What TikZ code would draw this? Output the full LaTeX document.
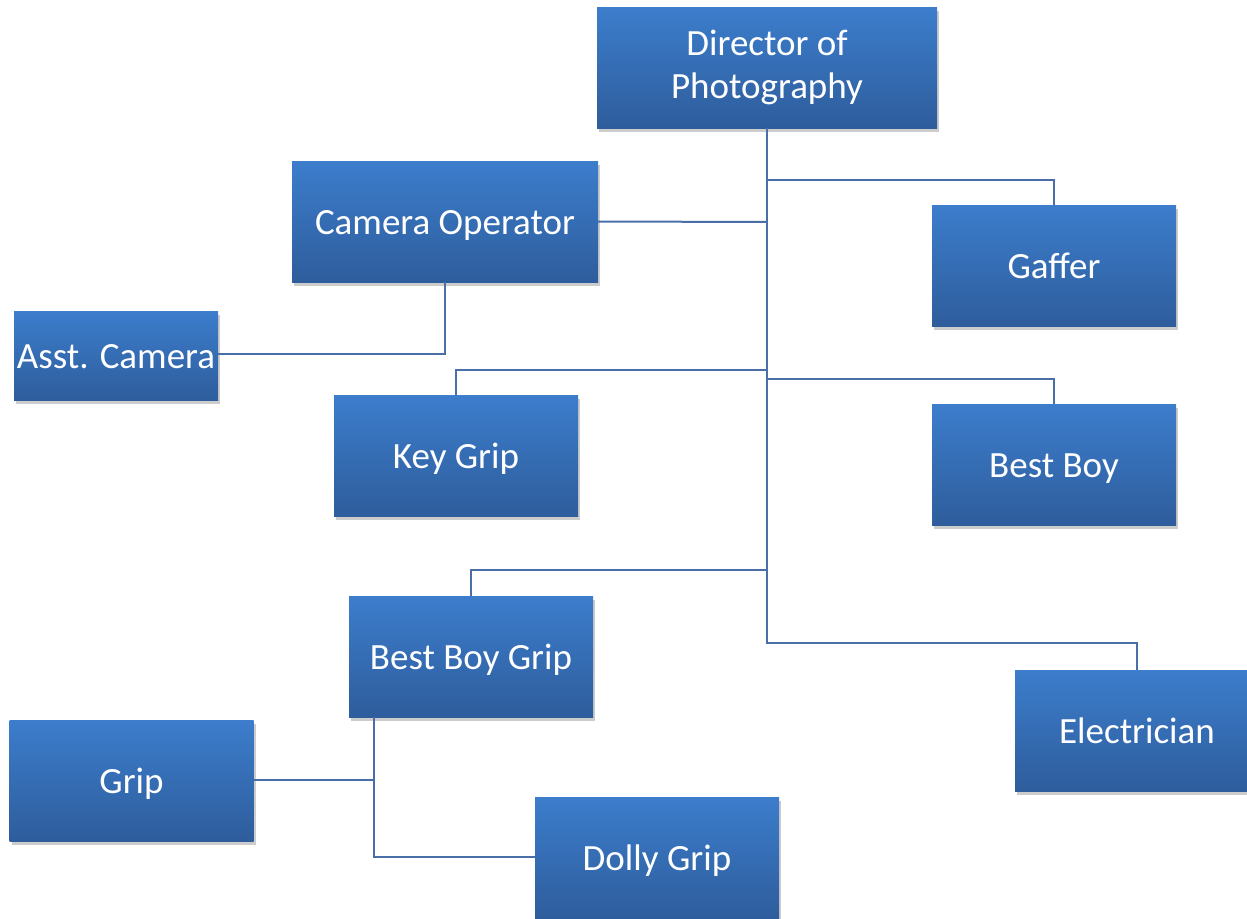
\documentclass[tikz,border=0pt]{standalone}
\usepackage{fontspec}
\setmainfont{Carlito}
\usetikzlibrary{shadows}
\definecolor{boxtop}{HTML}{3C7DCC}
\definecolor{boxbot}{HTML}{2E5D9C}
\definecolor{linkc}{HTML}{4A6EA8}
\tikzset{
  rolebox/.style={rectangle, minimum width=244pt, minimum height=121pt, inner sep=0pt,
    top color=boxtop, bottom color=boxbot, text=white, align=center,
    font=\fontsize{37}{44}\selectfont, text height=25pt, text depth=0pt,
    drop shadow={shadow xshift=2pt, shadow yshift=-4pt, opacity=0.2, fill=black}},
  link/.style={draw=linkc, line width=2pt}
}
\begin{document}
\begin{tikzpicture}[x=1pt,y=-1pt]
\useasboundingbox (0,0) rectangle (1247,918);
\node[rolebox, minimum width=340pt, text height=, text depth=] (dop) at (767,67.5) {\raisebox{-2pt}{Director of}\\\raisebox{-1pt}{Photography}};
\node[rolebox, minimum width=306pt] (cam) at (445,221.5) {Camera Operator};
\node[rolebox] (gaf) at (1054,265.5) {Gaffer};
\node[rolebox, minimum width=204pt, minimum height=89pt] (ast) at (116,355.5) {Asst. Camera};
\node[rolebox] (key) at (456,455.5) {Key Grip};
\node[rolebox] (bb) at (1054,464.5) {Best Boy};
\node[rolebox] (bbg) at (471,656.5) {Best Boy Grip};
\node[rolebox] (ele) at (1137,730.5) {Electrician};
\node[rolebox] (grip) at (131.5,780.5) {Grip};
\node[rolebox] (dolly) at (657,857.5) {Dolly Grip};

\coordinate (t1) at (767,180);
\coordinate (t2) at (767,222);
\coordinate (t3) at (767,370);
\coordinate (t4) at (767,379);
\coordinate (t5) at (767,570);
\coordinate (t6) at (767,643);
\coordinate (g1) at (374,780);
\coordinate (g2) at (374,857);
\coordinate (a1) at (445,354);

\draw[link] (dop.south) -- (t6) -| (ele.north);
\draw[link] (t1) -| (gaf.north);
\draw[link] (cam.east) -- (t2);
\draw[link] (cam.south) -- (a1) -- (ast.east |- a1);
\draw[link] (t3) -| (key.north);
\draw[link] (t4) -| (bb.north);
\draw[link] (t5) -| (bbg.north);
\draw[link] (bbg.south -| g1) -- (g2) -- (dolly.west |- g2);
\draw[link] (grip.east |- g1) -- (g1);
\end{tikzpicture}
\end{document}
